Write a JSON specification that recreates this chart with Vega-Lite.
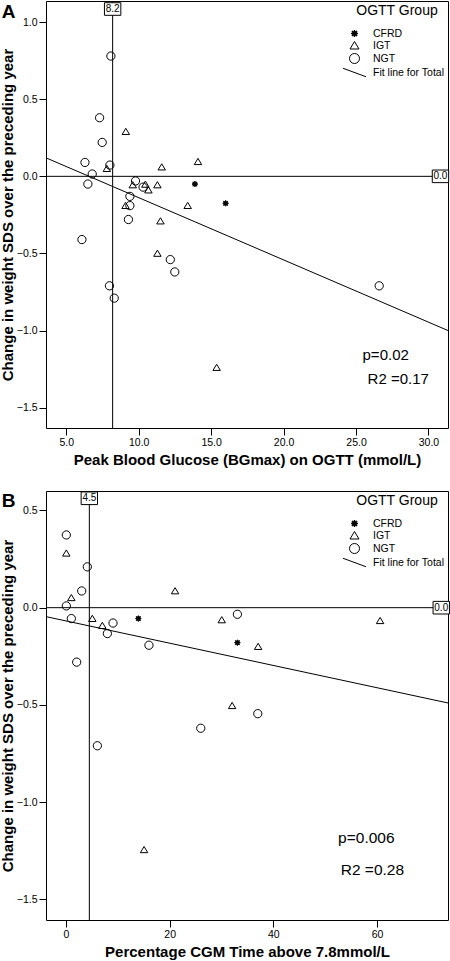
{
  "$schema": "https://vega.github.io/schema/vega-lite/v6.json",
  "padding": 0,
  "background": "white",
  "config": {
    "font": "Liberation Sans",
    "view": {"stroke": "black", "strokeWidth": 1},
    "axis": {"grid": false, "domain": false, "tickColor": "black", "tickSize": 7, "tickWidth": 1, "labelFontSize": 10.5, "labelColor": "black", "labelPadding": 2, "titleFontSize": 15, "titleFontWeight": "bold", "titleColor": "black"},
    "axisX": {"titlePadding": 5},
    "axisY": {"titlePadding": 0.5},
    "legend": {"orient": "top-right", "offset": 3, "titleFontSize": 14, "titleFontWeight": "normal", "titleColor": "black", "titleAnchor": "middle", "titlePadding": 10, "labelFontSize": 10.5, "labelColor": "black", "labelOffset": 13, "symbolStrokeColor": "black", "symbolStrokeWidth": 1, "rowPadding": 0, "padding": 0}
  },
  "datasets": {
    "pointsA": [
      {"x": 8.08, "y": 0.78, "group": "NGT"},
      {"x": 7.3, "y": 0.38, "group": "NGT"},
      {"x": 7.48, "y": 0.22, "group": "NGT"},
      {"x": 6.29, "y": 0.09, "group": "NGT"},
      {"x": 8.01, "y": 0.073, "group": "NGT"},
      {"x": 6.79, "y": 0.015, "group": "NGT"},
      {"x": 6.49, "y": -0.05, "group": "NGT"},
      {"x": 9.78, "y": -0.03, "group": "NGT"},
      {"x": 10.3, "y": -0.07, "group": "NGT"},
      {"x": 9.39, "y": -0.13, "group": "NGT"},
      {"x": 9.39, "y": -0.19, "group": "NGT"},
      {"x": 9.29, "y": -0.28, "group": "NGT"},
      {"x": 6.08, "y": -0.41, "group": "NGT"},
      {"x": 12.18, "y": -0.54, "group": "NGT"},
      {"x": 12.49, "y": -0.62, "group": "NGT"},
      {"x": 7.98, "y": -0.71, "group": "NGT"},
      {"x": 8.31, "y": -0.79, "group": "NGT"},
      {"x": 26.6, "y": -0.71, "group": "NGT"},
      {"x": 9.11, "y": 0.29, "group": "IGT"},
      {"x": 7.8, "y": 0.05, "group": "IGT"},
      {"x": 11.59, "y": 0.06, "group": "IGT"},
      {"x": 14.09, "y": 0.095, "group": "IGT"},
      {"x": 9.59, "y": -0.056, "group": "IGT"},
      {"x": 10.46, "y": -0.052, "group": "IGT"},
      {"x": 10.67, "y": -0.089, "group": "IGT"},
      {"x": 11.29, "y": -0.056, "group": "IGT"},
      {"x": 9.09, "y": -0.19, "group": "IGT"},
      {"x": 13.38, "y": -0.19, "group": "IGT"},
      {"x": 11.5, "y": -0.29, "group": "IGT"},
      {"x": 11.29, "y": -0.5, "group": "IGT"},
      {"x": 15.38, "y": -1.24, "group": "IGT"},
      {"x": 13.88, "y": -0.05, "group": "CFRD"},
      {"x": 16.0, "y": -0.175, "group": "CFRD"}
    ],
    "pointsB": [
      {"x": 0.06, "y": 0.374, "group": "NGT"},
      {"x": 4.11, "y": 0.21, "group": "NGT"},
      {"x": 3.03, "y": 0.086, "group": "NGT"},
      {"x": 0.06, "y": 0.009, "group": "NGT"},
      {"x": 1.03, "y": -0.056, "group": "NGT"},
      {"x": 9.07, "y": -0.079, "group": "NGT"},
      {"x": 7.98, "y": -0.133, "group": "NGT"},
      {"x": 16.0, "y": -0.193, "group": "NGT"},
      {"x": 33.07, "y": -0.034, "group": "NGT"},
      {"x": 2.06, "y": -0.28, "group": "NGT"},
      {"x": 6.05, "y": -0.71, "group": "NGT"},
      {"x": 26.0, "y": -0.62, "group": "NGT"},
      {"x": 37.0, "y": -0.545, "group": "NGT"},
      {"x": 0.06, "y": 0.28, "group": "IGT"},
      {"x": 1.03, "y": 0.051, "group": "IGT"},
      {"x": 21.04, "y": 0.086, "group": "IGT"},
      {"x": 5.08, "y": -0.056, "group": "IGT"},
      {"x": 7.01, "y": -0.092, "group": "IGT"},
      {"x": 30.05, "y": -0.063, "group": "IGT"},
      {"x": 37.07, "y": -0.2, "group": "IGT"},
      {"x": 32.05, "y": -0.504, "group": "IGT"},
      {"x": 60.6, "y": -0.067, "group": "IGT"},
      {"x": 15.06, "y": -1.245, "group": "IGT"},
      {"x": 13.96, "y": -0.056, "group": "CFRD"},
      {"x": 33.07, "y": -0.18, "group": "CFRD"}
    ]
  },
  "vconcat": [
    {
      "width": 402,
      "height": 427,
      "layer": [
        {
          "data": {"values": [{"x": 8.2}]},
          "mark": {"type": "rule", "color": "black", "strokeWidth": 1},
          "encoding": {
            "x": {"field": "x", "type": "quantitative", "scale": {"domain": [3.6, 31.35], "nice": false, "zero": false}, "axis": {"values": [5, 10, 15, 20, 25, 30], "format": ".1f"}, "title": "Peak Blood Glucose (BGmax) on OGTT (mmol/L)"}
          }
        },
        {
          "data": {"values": [{"y": 0}]},
          "mark": {"type": "rule", "color": "black", "strokeWidth": 1},
          "encoding": {
            "y": {"field": "y", "type": "quantitative", "scale": {"domain": [-1.632, 1.137], "nice": false, "zero": false}, "axis": {"values": [-1.5, -1, -0.5, 0, 0.5, 1], "format": ".1f"}, "title": "Change in weight SDS over the preceding year"}
          }
        },
        {
          "data": {"values": [{"x": 3.6, "y": 0.12}, {"x": 31.35, "y": -1.0}]},
          "mark": {"type": "line", "color": "black", "strokeWidth": 1},
          "encoding": {
            "x": {"field": "x", "type": "quantitative", "title": "Peak Blood Glucose (BGmax) on OGTT (mmol/L)"},
            "y": {"field": "y", "type": "quantitative", "title": "Change in weight SDS over the preceding year"}
          }
        },
        {
          "data": {"name": "pointsA"},
          "mark": {"type": "point", "strokeWidth": 1, "size": 68, "opacity": 1},
          "encoding": {
            "x": {"field": "x", "type": "quantitative", "title": "Peak Blood Glucose (BGmax) on OGTT (mmol/L)"},
            "y": {"field": "y", "type": "quantitative", "title": "Change in weight SDS over the preceding year"},
            "shape": {"field": "group", "type": "nominal", "title": "OGTT Group", "scale": {"domain": ["CFRD", "IGT", "NGT", "Fit line for Total"], "range": ["M0.7,0L0.36,0.15L0.5,0.5L0.15,0.36L0,0.7L-0.15,0.36L-0.5,0.5L-0.36,0.15L-0.7,0L-0.36,-0.15L-0.5,-0.5L-0.15,-0.36L0,-0.7L0.15,-0.36L0.5,-0.5L0.36,-0.15Z", "M0,-0.8L0.9,0.7L-0.9,0.7Z", "circle", "M-2.3,-0.85L2.3,0.85"]}, "legend": {"labelColor": "black"}},
            "fill": {"field": "group", "type": "nominal", "title": "OGTT Group", "scale": {"domain": ["CFRD", "IGT", "NGT", "Fit line for Total"], "range": ["black", "transparent", "transparent", "transparent"]}, "legend": {"labelColor": "black"}},
            "stroke": {"field": "group", "type": "nominal", "title": "OGTT Group", "scale": {"domain": ["CFRD", "IGT", "NGT", "Fit line for Total"], "range": ["black", "black", "black", "black"]}, "legend": {"labelColor": "black"}}
          }
        },
        {
          "data": {"values": [{"x": 8.2, "label": "8.2"}]},
          "mark": {"type": "point", "shape": "M-1.3,-1H1.3V1H-1.3Z", "size": 159, "filled": true, "fill": "white", "stroke": "black", "strokeWidth": 1, "opacity": 1},
          "encoding": {
            "x": {"field": "x", "type": "quantitative"},
            "y": {"datum": 1.085, "type": "quantitative"}
          }
        },
        {
          "data": {"values": [{"x": 8.2, "label": "8.2"}]},
          "mark": {"type": "text", "fontSize": 10, "color": "black", "align": "center", "baseline": "middle"},
          "encoding": {
            "x": {"field": "x", "type": "quantitative"},
            "y": {"datum": 1.085, "type": "quantitative"},
            "text": {"field": "label"}
          }
        },
        {
          "data": {"values": [{"y": 0, "label": "0.0"}]},
          "mark": {"type": "point", "shape": "M-1.3,-1H1.3V1H-1.3Z", "size": 159, "filled": true, "fill": "white", "stroke": "black", "strokeWidth": 1, "opacity": 1},
          "encoding": {
            "x": {"datum": 30.83, "type": "quantitative"},
            "y": {"field": "y", "type": "quantitative"}
          }
        },
        {
          "data": {"values": [{"y": 0, "label": "0.0"}]},
          "mark": {"type": "text", "fontSize": 10, "color": "black", "align": "center", "baseline": "middle"},
          "encoding": {
            "x": {"datum": 30.83, "type": "quantitative"},
            "y": {"field": "y", "type": "quantitative"},
            "text": {"field": "label"}
          }
        },
        {
          "data": {"values": [{"stat": "p=0.02"}]},
          "mark": {"type": "text", "fontSize": 15, "color": "black", "align": "left", "baseline": "middle"},
          "encoding": {
            "x": {"datum": 25.45, "type": "quantitative"},
            "y": {"datum": -1.161, "type": "quantitative"},
            "text": {"field": "stat"}
          }
        },
        {
          "data": {"values": [{"stat": "R2 =0.17"}]},
          "mark": {"type": "text", "fontSize": 15, "color": "black", "align": "left", "baseline": "middle"},
          "encoding": {
            "x": {"datum": 25.8, "type": "quantitative"},
            "y": {"datum": -1.316, "type": "quantitative"},
            "text": {"field": "stat"}
          }
        },
        {
          "data": {"values": [{"panel": "A"}]},
          "mark": {"type": "text", "fontSize": 19, "fontWeight": "bold", "color": "black", "align": "left", "baseline": "alphabetic"},
          "encoding": {
            "x": {"datum": 0.55, "type": "quantitative"},
            "y": {"datum": 1.0285, "type": "quantitative"},
            "text": {"field": "panel"}
          }
        }
      ]
    },
    {
      "width": 402,
      "height": 429,
      "layer": [
        {
          "data": {"values": [{"x": 4.5}]},
          "mark": {"type": "rule", "color": "black", "strokeWidth": 1},
          "encoding": {
            "x": {"field": "x", "type": "quantitative", "scale": {"domain": [-3.86, 73.7], "nice": false, "zero": false}, "axis": {"values": [0, 20, 40, 60], "format": "d"}, "title": "Percentage CGM Time above 7.8mmol/L"}
          }
        },
        {
          "data": {"values": [{"y": 0}]},
          "mark": {"type": "rule", "color": "black", "strokeWidth": 1},
          "encoding": {
            "y": {"field": "y", "type": "quantitative", "scale": {"domain": [-1.606, 0.6], "nice": false, "zero": false}, "axis": {"values": [-1.5, -1, -0.5, 0, 0.5], "format": ".1f"}, "title": "Change in weight SDS over the preceding year"}
          }
        },
        {
          "data": {"values": [{"x": -3.86, "y": -0.046}, {"x": 73.7, "y": -0.49}]},
          "mark": {"type": "line", "color": "black", "strokeWidth": 1},
          "encoding": {
            "x": {"field": "x", "type": "quantitative", "title": "Percentage CGM Time above 7.8mmol/L"},
            "y": {"field": "y", "type": "quantitative", "title": "Change in weight SDS over the preceding year"}
          }
        },
        {
          "data": {"name": "pointsB"},
          "mark": {"type": "point", "strokeWidth": 1, "size": 68, "opacity": 1},
          "encoding": {
            "x": {"field": "x", "type": "quantitative", "title": "Percentage CGM Time above 7.8mmol/L"},
            "y": {"field": "y", "type": "quantitative", "title": "Change in weight SDS over the preceding year"},
            "shape": {"field": "group", "type": "nominal", "title": "OGTT Group", "scale": {"domain": ["CFRD", "IGT", "NGT", "Fit line for Total"], "range": ["M0.7,0L0.36,0.15L0.5,0.5L0.15,0.36L0,0.7L-0.15,0.36L-0.5,0.5L-0.36,0.15L-0.7,0L-0.36,-0.15L-0.5,-0.5L-0.15,-0.36L0,-0.7L0.15,-0.36L0.5,-0.5L0.36,-0.15Z", "M0,-0.8L0.9,0.7L-0.9,0.7Z", "circle", "M-2.3,-0.85L2.3,0.85"]}, "legend": {"labelColor": "black"}},
            "fill": {"field": "group", "type": "nominal", "title": "OGTT Group", "scale": {"domain": ["CFRD", "IGT", "NGT", "Fit line for Total"], "range": ["black", "transparent", "transparent", "transparent"]}, "legend": {"labelColor": "black"}},
            "stroke": {"field": "group", "type": "nominal", "title": "OGTT Group", "scale": {"domain": ["CFRD", "IGT", "NGT", "Fit line for Total"], "range": ["black", "black", "black", "black"]}, "legend": {"labelColor": "black"}}
          }
        },
        {
          "data": {"values": [{"x": 4.5, "label": "4.5"}]},
          "mark": {"type": "point", "shape": "M-1.3,-1H1.3V1H-1.3Z", "size": 159, "filled": true, "fill": "white", "stroke": "black", "strokeWidth": 1, "opacity": 1},
          "encoding": {
            "x": {"field": "x", "type": "quantitative"},
            "y": {"datum": 0.5626, "type": "quantitative"}
          }
        },
        {
          "data": {"values": [{"x": 4.5, "label": "4.5"}]},
          "mark": {"type": "text", "fontSize": 10, "color": "black", "align": "center", "baseline": "middle"},
          "encoding": {
            "x": {"field": "x", "type": "quantitative"},
            "y": {"datum": 0.5626, "type": "quantitative"},
            "text": {"field": "label"}
          }
        },
        {
          "data": {"values": [{"y": 0, "label": "0.0"}]},
          "mark": {"type": "point", "shape": "M-1.3,-1H1.3V1H-1.3Z", "size": 159, "filled": true, "fill": "white", "stroke": "black", "strokeWidth": 1, "opacity": 1},
          "encoding": {
            "x": {"datum": 72.4, "type": "quantitative"},
            "y": {"field": "y", "type": "quantitative"}
          }
        },
        {
          "data": {"values": [{"y": 0, "label": "0.0"}]},
          "mark": {"type": "text", "fontSize": 10, "color": "black", "align": "center", "baseline": "middle"},
          "encoding": {
            "x": {"datum": 72.4, "type": "quantitative"},
            "y": {"field": "y", "type": "quantitative"},
            "text": {"field": "label"}
          }
        },
        {
          "data": {"values": [{"stat": "p=0.006"}]},
          "mark": {"type": "text", "fontSize": 15.5, "color": "black", "align": "left", "baseline": "middle"},
          "encoding": {
            "x": {"datum": 52.5, "type": "quantitative"},
            "y": {"datum": -1.185, "type": "quantitative"},
            "text": {"field": "stat"}
          }
        },
        {
          "data": {"values": [{"stat": "R2 =0.28"}]},
          "mark": {"type": "text", "fontSize": 15.5, "color": "black", "align": "left", "baseline": "middle"},
          "encoding": {
            "x": {"datum": 53.0, "type": "quantitative"},
            "y": {"datum": -1.349, "type": "quantitative"},
            "text": {"field": "stat"}
          }
        },
        {
          "data": {"values": [{"panel": "B"}]},
          "mark": {"type": "text", "fontSize": 19, "fontWeight": "bold", "color": "black", "align": "left", "baseline": "alphabetic"},
          "encoding": {
            "x": {"datum": -12.41, "type": "quantitative"},
            "y": {"datum": 0.518, "type": "quantitative"},
            "text": {"field": "panel"}
          }
        }
      ]
    }
  ],
  "spacing": 63,
  "bounds": "flush",
  "resolve": {
    "scale": {"x": "independent", "y": "independent", "shape": "independent", "fill": "independent", "stroke": "independent"},
    "legend": {"shape": "independent", "fill": "independent", "stroke": "independent"}
  }
}
